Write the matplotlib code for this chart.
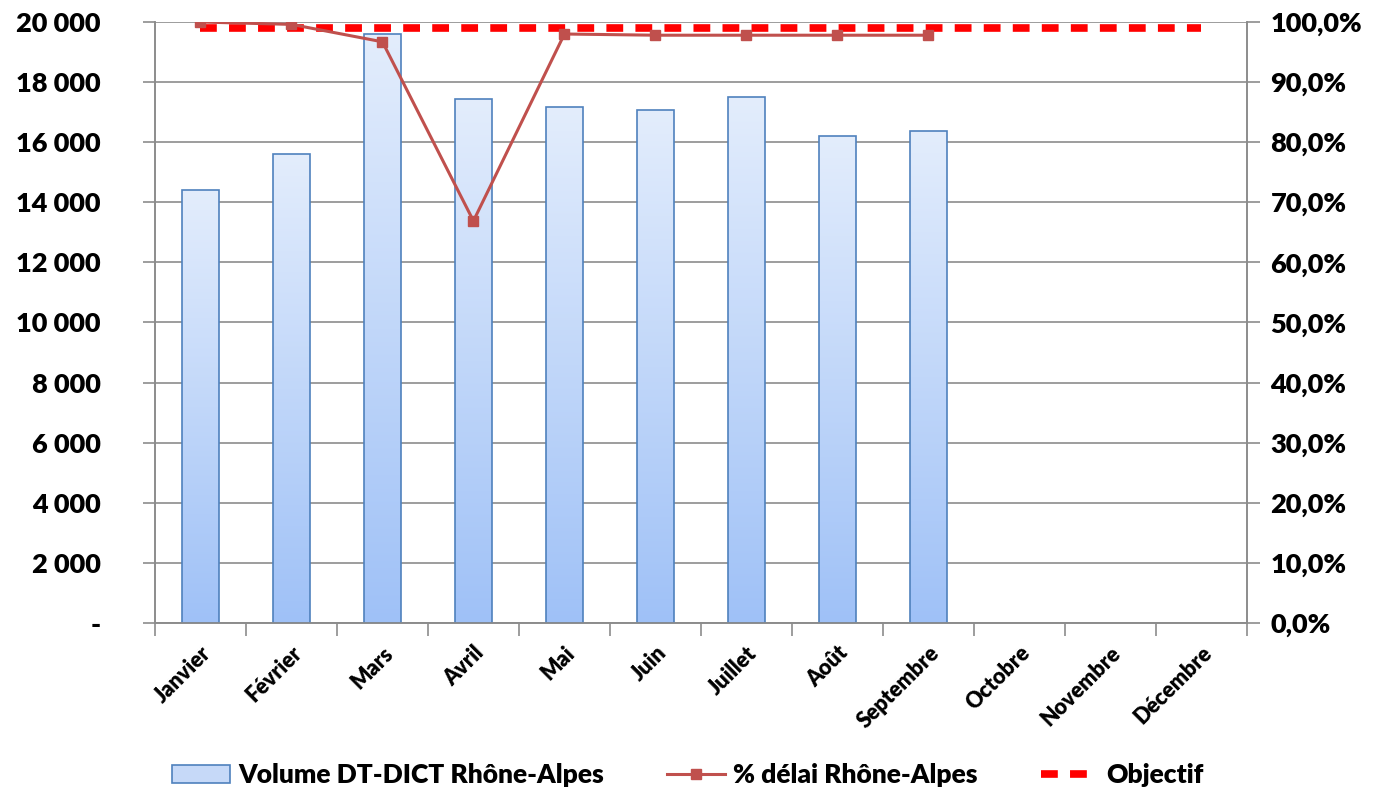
import numpy as np
import matplotlib.pyplot as plt
from matplotlib.patches import Patch
from matplotlib.lines import Line2D
from matplotlib.colors import LinearSegmentedColormap

plt.rcParams['font.family'] = ['Lato', 'DejaVu Sans']
plt.rcParams['font.weight'] = 'heavy'

mois = ['Janvier', 'Février', 'Mars', 'Avril', 'Mai', 'Juin', 'Juillet',
        'Août', 'Septembre', 'Octobre', 'Novembre', 'Décembre']
volume = [14400, 15600, 19600, 17450, 17170, 17070, 17500, 16210, 16380]
delai = [100.0, 99.6, 96.7, 66.9, 98.0, 97.8, 97.8, 97.8, 97.8]
objectif = [99.0] * 12

left_ticks = [0, 2000, 4000, 6000, 8000, 10000, 12000, 14000, 16000, 18000, 20000]
right_ticks = [0, 10, 20, 30, 40, 50, 60, 70, 80, 90, 100]

fig = plt.figure(figsize=(13.76, 7.91), dpi=100)
ax = fig.add_axes([0.1126, 0.2124, 0.7936, 0.7598])
ax2 = ax.twinx()

grid_col = '#8c8c8c'
cmap = LinearSegmentedColormap.from_list('bleu', ['#9fc1f7', '#e3edfc'])
grad = np.linspace(0, 1, 256).reshape(-1, 1)

x = np.arange(len(volume))
bars = ax.bar(x, volume, width=0.4, facecolor='none', edgecolor='#4f81bd',
              linewidth=1.2, zorder=3)
for b in bars:
    x0 = b.get_x()
    im = ax.imshow(grad, extent=[x0, x0 + b.get_width(), 0, b.get_height()],
                   origin='lower', aspect='auto', cmap=cmap, zorder=2)
    im.set_clip_path(b)

ax.set_xlim(-0.5, 11.5)
ax.set_ylim(0, 20000)
ax.set_yticks(left_ticks)
ax.set_yticklabels(['-'] + [f'{v:,}'.replace(',', ' ') for v in left_ticks[1:]])
ax.yaxis.grid(True, color=grid_col, linewidth=1.2, zorder=0)
ax.set_axisbelow(True)
ax.set_xticks(np.arange(12))
ax.set_xticklabels(mois, rotation=45, ha='right', rotation_mode='anchor')
ax.set_xticks(np.arange(-0.5, 12, 1), minor=True)
ax.tick_params(axis='x', which='major', length=0, labelsize=15.5, pad=14)
ax.tick_params(axis='x', which='minor', length=9, color=grid_col, width=1.2)
ax.tick_params(axis='y', labelsize=19.5, length=9, color=grid_col, width=1.2, pad=30)

ax.spines['top'].set_visible(False)
ax2.spines['top'].set_visible(False)
for a in (ax, ax2):
    for s in ['left', 'right', 'bottom']:
        a.spines[s].set_color(grid_col)
        a.spines[s].set_linewidth(1.2)

ax2.plot(np.arange(12), objectif, color='#ff0000', linewidth=5.5,
         dashes=(2.2, 1.6), zorder=5)
ax2.plot(x, delai, color='#c0504d', linewidth=2.2, marker='s', markersize=7.5,
         zorder=6)
ax2.set_ylim(0, 100)
ax2.set_yticks(right_ticks)
ax2.set_yticklabels([f'{v:.1f}%'.replace('.', ',') for v in right_ticks])
ax2.tick_params(axis='y', labelsize=19.5, length=9, color=grid_col, width=1.2, pad=8)

handles = [
    Patch(facecolor='#c6d9f8', edgecolor='#4f81bd', linewidth=1.2),
    Line2D([], [], color='#c0504d', linewidth=2.2, marker='s', markersize=7.5),
    Line2D([], [], color='#ff0000', linewidth=5.5, dashes=(2.2, 1.6)),
]
labels = ['Volume DT-DICT Rhône-Alpes', '% délai Rhône-Alpes', 'Objectif']
fig.legend(handles, labels, loc='center', bbox_to_anchor=(0.5, 0.02),
           ncol=3, frameon=False, fontsize=19, handlelength=2.2,
           columnspacing=2.4, handletextpad=0.3)

fig.savefig('out.png', dpi=100)
